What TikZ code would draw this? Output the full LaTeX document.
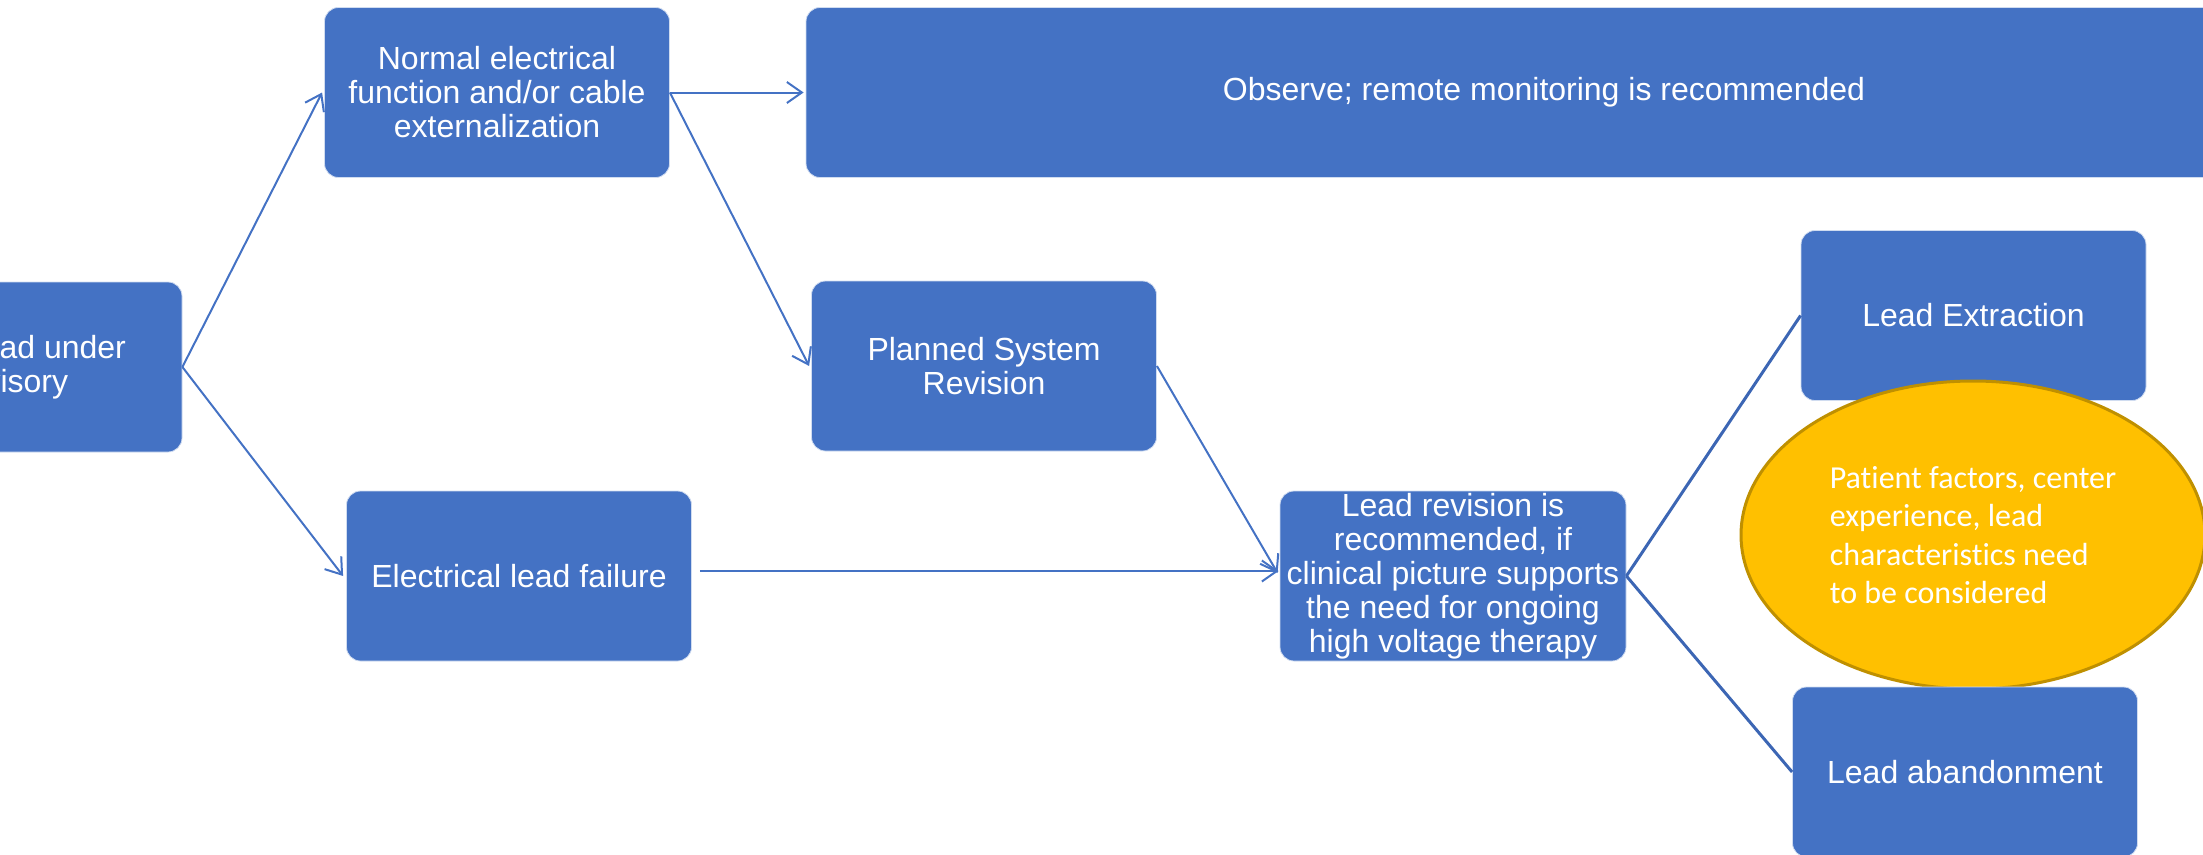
\documentclass[tikz,border=0pt]{standalone}
\usepackage{fontspec}
\setmainfont{Liberation Sans}
\newfontfamily\calib[Ligatures=NoCommon]{Carlito}
\usetikzlibrary{arrows.meta,shapes.geometric}
\definecolor{boxblue}{HTML}{4472C4}
\definecolor{linkblue}{HTML}{4472C4}
\definecolor{darklink}{HTML}{3C66B4}
\definecolor{gold}{HTML}{FFC000}
\definecolor{goldedge}{HTML}{BF9000}
\begin{document}
\begin{tikzpicture}[x=1pt,y=-1pt,
  box/.style={rectangle, rounded corners=14pt, fill=boxblue, draw=white!75!boxblue, line width=0.8pt,
    text=white, align=center, minimum width=345pt, minimum height=170pt, inner sep=1pt,
    font=\fontsize{32pt}{34pt}\selectfont},
  link/.style={draw=linkblue, line width=2pt},
  arr/.style={link, -{Straight Barb[length=15pt,width=21pt,line width=2pt]}},
  thick link/.style={draw=darklink, line width=3pt},
  note/.style={ellipse, fill=gold, draw=goldedge, line width=3pt, minimum width=464pt, minimum height=308pt,
    inner sep=0pt, text=white, align=left, font=\calib\fontsize{32pt}{38.5pt}\selectfont}
]
\useasboundingbox (0,0) rectangle (2203,854);
\clip (0,0) rectangle (2203,854);

\node[box, minimum width=274pt] (A) at (45,367) {Lead under\\advisory\hspace*{73pt}\mbox{}};
\node[box] (B) at (497,92.5) {Normal electrical\\function and/or cable\\externalization};
\node[box, minimum width=1476pt] (C) at (1544,92.5) {Observe; remote monitoring is recommended};
\node[box] (D) at (984,366) {Planned System\\Revision};
\node[box] (E) at (519,576) {Electrical lead failure};
\node[box, minimum width=346pt] (F) at (1453,576) {Lead revision is\\recommended, if\\clinical picture supports\\the need for ongoing\\high voltage therapy};
\node[box] (G) at (1973.5,315.5) {Lead Extraction};
\node[note] (N) at (1973,535) {Patient factors, center\\experience, lead\\characteristics need\\to be considered};
\node[box] (H) at (1965,772) {Lead abandonment};

\draw[arr] (A.east) -- ([xshift=-2pt]B.west);
\draw[arr] (A.east) -- ([xshift=-3pt]E.west);
\draw[arr] (B.east) -- ([xshift=-2pt]C.west);
\draw[arr] (B.east) -- ([xshift=-2pt]D.west);
\draw[arr] (D.east) -- ([xshift=-2pt,yshift=3pt]F.west);
\draw[arr] ([xshift=8pt,yshift=5pt]E.east) -- ([xshift=-1pt,yshift=5pt]F.west);
\draw[thick link] (F.east) -- (G.west);
\draw[thick link] (F.east) -- (H.west);
\end{tikzpicture}
\end{document}
